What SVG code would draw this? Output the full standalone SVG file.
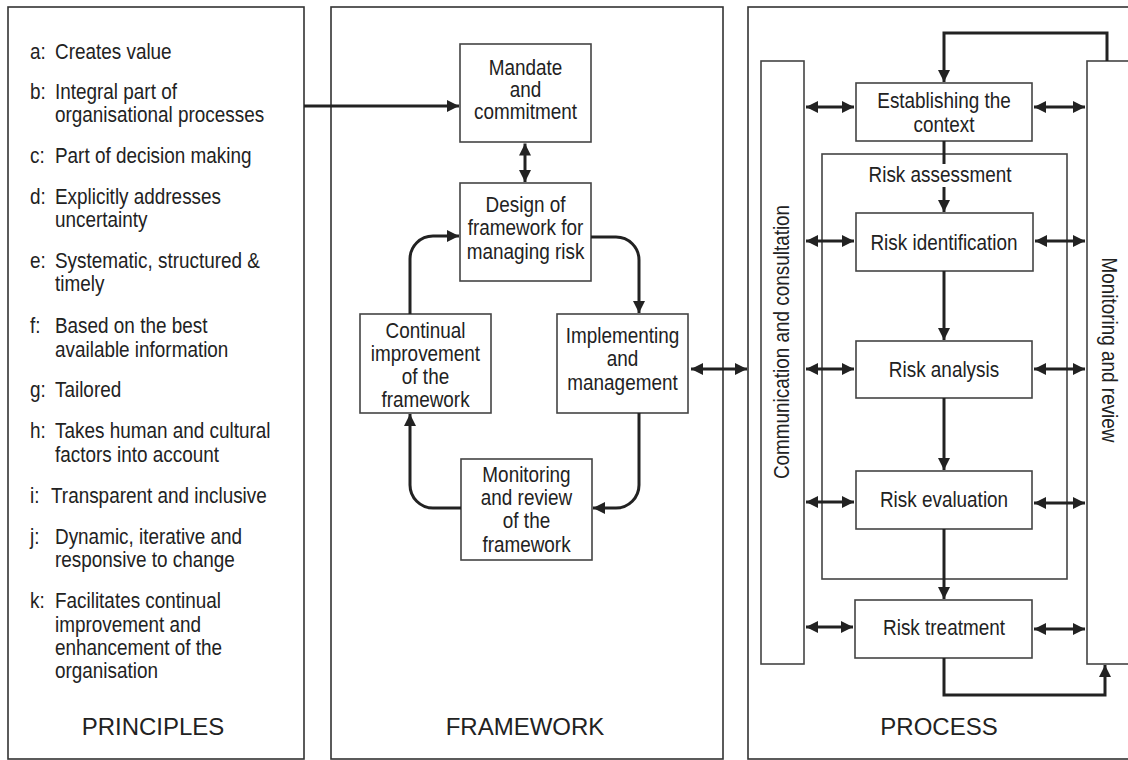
<svg xmlns="http://www.w3.org/2000/svg" width="1128" height="760" viewBox="0 0 1128 760">
<style>
.panel{fill:none;stroke:#333;stroke-width:1.6}
.box{fill:#fff;stroke:#444;stroke-width:1.6}
.t{font-family:"Liberation Sans",Arial,sans-serif;font-size:22px;fill:#222}
.c{text-anchor:middle}
.big{font-family:"Liberation Sans",Arial,sans-serif;font-size:24px;fill:#222;text-anchor:middle}
.ln{fill:none;stroke:#222;stroke-width:3}
.a{marker-end:url(#ah)}
.d{marker-start:url(#ah);marker-end:url(#ah)}
</style>
<defs>
<marker id="ah" markerUnits="userSpaceOnUse" markerWidth="12" markerHeight="12" refX="11" refY="5.5" orient="auto-start-reverse" viewBox="0 0 11 11">
<path d="M0,0 L11,5.5 L0,11 z" fill="#222"/>
</marker>
</defs>
<rect width="1128" height="760" fill="#fff"/>

<g id="principles">
<rect class="panel" x="8" y="7" width="296" height="752"/>
<g class="t">
<text transform="translate(30,59) scale(.86 1)">a:</text><text transform="translate(55,59) scale(.86 1)">Creates value</text>
<text transform="translate(30,99) scale(.86 1)">b:</text><text transform="translate(55,99) scale(.86 1)"><tspan x="0">Integral part of</tspan><tspan x="0" dy="23">organisational processes</tspan></text>
<text transform="translate(30,163) scale(.86 1)">c:</text><text transform="translate(55,163) scale(.86 1)">Part of decision making</text>
<text transform="translate(30,204) scale(.86 1)">d:</text><text transform="translate(55,204) scale(.86 1)"><tspan x="0">Explicitly addresses</tspan><tspan x="0" dy="23">uncertainty</tspan></text>
<text transform="translate(30,268) scale(.86 1)">e:</text><text transform="translate(55,268) scale(.86 1)"><tspan x="0">Systematic, structured &amp;</tspan><tspan x="0" dy="23">timely</tspan></text>
<text transform="translate(30,333) scale(.86 1)">f:</text><text transform="translate(55,333) scale(.86 1)"><tspan x="0">Based on the best</tspan><tspan x="0" dy="24">available information</tspan></text>
<text transform="translate(30,397) scale(.86 1)">g:</text><text transform="translate(55,397) scale(.86 1)">Tailored</text>
<text transform="translate(30,438) scale(.86 1)">h:</text><text transform="translate(55,438) scale(.86 1)"><tspan x="0">Takes human and cultural</tspan><tspan x="0" dy="24">factors into account</tspan></text>
<text transform="translate(30,503) scale(.86 1)">i:</text><text transform="translate(51,503) scale(.86 1)">Transparent and inclusive</text>
<text transform="translate(30,544) scale(.86 1)">j:</text><text transform="translate(55,544) scale(.86 1)"><tspan x="0">Dynamic, iterative and</tspan><tspan x="0" dy="23">responsive to change</tspan></text>
<text transform="translate(30,608) scale(.86 1)">k:</text><text transform="translate(55,608) scale(.86 1)"><tspan x="0">Facilitates continual</tspan><tspan x="0" dy="24">improvement and</tspan><tspan x="0" dy="23">enhancement of the</tspan><tspan x="0" dy="23">organisation</tspan></text>
</g>
<text class="big" x="153" y="735">PRINCIPLES</text>
</g>

<g id="framework">
<rect class="panel" x="331" y="7" width="392" height="752"/>
<text class="big" x="525" y="735">FRAMEWORK</text>
</g>

<g id="mandate">
<rect class="box" x="460" y="44" width="131" height="98"/>
<text class="t c" transform="translate(525.5,74.5) scale(.86 1)"><tspan x="0">Mandate</tspan><tspan x="0" dy="22.5">and</tspan><tspan x="0" dy="22.5">commitment</tspan></text>
</g>
<g id="design">
<rect class="box" x="460" y="183" width="131" height="98"/>
<text class="t c" transform="translate(525.5,212) scale(.86 1)"><tspan x="0">Design of</tspan><tspan x="0" dy="23.5">framework for</tspan><tspan x="0" dy="23.5">managing risk</tspan></text>
</g>
<g id="continual">
<rect class="box" x="360" y="314" width="131" height="99"/>
<text class="t c" transform="translate(425.5,338) scale(.86 1)"><tspan x="0">Continual</tspan><tspan x="0" dy="23">improvement</tspan><tspan x="0" dy="23">of the</tspan><tspan x="0" dy="23">framework</tspan></text>
</g>
<g id="implementing">
<rect class="box" x="557" y="314" width="131" height="99"/>
<text class="t c" transform="translate(622.5,343) scale(.86 1)"><tspan x="0">Implementing</tspan><tspan x="0" dy="23.5">and</tspan><tspan x="0" dy="23.5">management</tspan></text>
</g>
<g id="monitoring-framework">
<rect class="box" x="461" y="459" width="131" height="101"/>
<text class="t c" transform="translate(526.5,482) scale(.86 1)"><tspan x="0">Monitoring</tspan><tspan x="0" dy="23">and review</tspan><tspan x="0" dy="23">of the</tspan><tspan x="0" dy="24">framework</tspan></text>
</g>

<g id="process">
<rect class="panel" x="748" y="7" width="390" height="752"/>
<text class="big" x="939" y="735">PROCESS</text>
</g>
<g id="communication">
<rect class="box" x="761" y="61" width="43" height="603"/>
<text class="t c" transform="translate(789,342) rotate(-90) scale(.86 1)">Communication and consultation</text>
</g>
<g id="monitoring-review">
<rect class="box" x="1087" y="61" width="50" height="603"/>
<text class="t c" transform="translate(1102,350) rotate(90) scale(.86 1)">Monitoring and review</text>
</g>
<g id="risk-assessment">
<rect class="box" x="822" y="154" width="245" height="425"/>
<text class="t c" transform="translate(940,182) scale(.86 1)">Risk assessment</text>
</g>
<g id="establishing">
<rect class="box" x="856" y="83" width="176" height="58"/>
<text class="t c" transform="translate(944,108) scale(.86 1)"><tspan x="0">Establishing the</tspan><tspan x="0" dy="24">context</tspan></text>
</g>
<g id="identification">
<rect class="box" x="856" y="213" width="177" height="58"/>
<text class="t c" transform="translate(944,250) scale(.86 1)">Risk identification</text>
</g>
<g id="analysis">
<rect class="box" x="856" y="341" width="176" height="57"/>
<text class="t c" transform="translate(944,377) scale(.86 1)">Risk analysis</text>
</g>
<g id="evaluation">
<rect class="box" x="856" y="471" width="176" height="58"/>
<text class="t c" transform="translate(944,507) scale(.86 1)">Risk evaluation</text>
</g>
<g id="treatment">
<rect class="box" x="855" y="600" width="177" height="58"/>
<text class="t c" transform="translate(944,635) scale(.86 1)">Risk treatment</text>
</g>

<g id="connectors">
<path class="ln a" d="M304,106 H459"/>
<path class="ln d" d="M525,143.5 V182"/>
<path class="ln a" d="M591,237 H616 A23,23 0 0 1 639,260 V313"/>
<path class="ln a" d="M410,314 V259 A23,23 0 0 1 433,236 H459"/>
<path class="ln a" d="M639,413 V485 A23,23 0 0 1 616,508 H593"/>
<path class="ln a" d="M461,508 H433 A23,23 0 0 1 410,485 V414"/>
<path class="ln d" d="M691,369 H747"/>
<path class="ln a" d="M1107,61 V33 H944 V82"/>
<path class="ln" d="M944,141 V164"/>
<path class="ln a" d="M944,187 V212"/>
<path class="ln a" d="M944,271 V340"/>
<path class="ln a" d="M944,398 V470"/>
<path class="ln a" d="M944,529 V599"/>
<path class="ln a" d="M944,658 V695 H1105 V665"/>
<path class="ln d" d="M806,107 H854"/>
<path class="ln d" d="M806,241 H854"/>
<path class="ln d" d="M806,369 H854"/>
<path class="ln d" d="M806,502 H854"/>
<path class="ln d" d="M806,627 H853"/>
<path class="ln d" d="M1034,107 H1085"/>
<path class="ln d" d="M1035,241 H1085"/>
<path class="ln d" d="M1034,369 H1085"/>
<path class="ln d" d="M1034,503 H1085"/>
<path class="ln d" d="M1034,629 H1085"/>
</g>
</svg>
